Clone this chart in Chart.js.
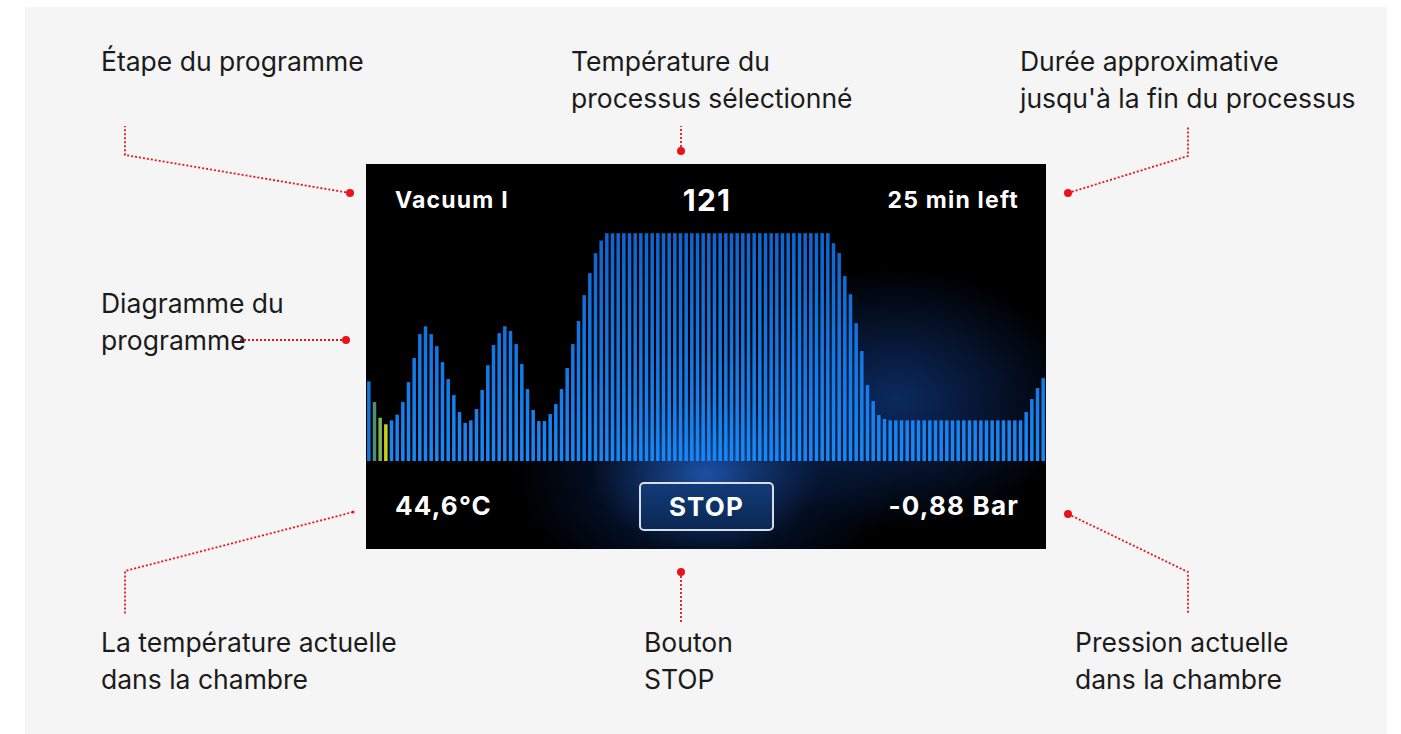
<!DOCTYPE html>
<html lang="fr">
<head>
  <meta charset="UTF-8">
  <title>Programme autoclave</title>
  <script src="https://cdn.jsdelivr.net/npm/chart.js@4.4.1/dist/chart.umd.min.js"></script>
  <style>
    html, body { margin: 0; padding: 0; background: #fff; }
    body { width: 1401px; height: 734px; position: relative; overflow: hidden; font-family: Inter, "Noto Sans", sans-serif; }
    .page { position: absolute; left: 25px; top: 7px; width: 1362px; height: 727px; background: #f5f5f5; }
    .note { position: absolute; font-size: 26.5px; line-height: 37px; color: #1b1b1b; white-space: nowrap; }
    .screen {
      position: absolute; left: 366px; top: 164px; width: 680px; height: 385px; overflow: hidden;
      background:
        radial-gradient(ellipse 190px 130px at 340px 310px, rgba(35,100,205,0.8), rgba(10,45,110,0.3) 60%, rgba(0,0,0,0) 100%),
        radial-gradient(ellipse 180px 130px at 530px 235px, rgba(20,70,160,0.6), rgba(0,0,0,0) 100%),
        #000;
    }
    .lbl { position: absolute; color: #fff; font-weight: 700; white-space: nowrap; letter-spacing: 1.2px; }
    .chartbox { position: absolute; left: 0; top: 56px; width: 680px; height: 241px; }
    .stop {
      position: absolute; left: 273px; top: 318px; width: 131px; height: 45px;
      border: 2px solid #d8dde6; border-radius: 5px;
      background: linear-gradient(#123b78, #0b2754);
      color: #fff; font-weight: 700; font-size: 26px; letter-spacing: 1.2px; line-height: 45px; text-align: center;
    }
    svg { position: absolute; left: 0; top: 0; }
  </style>
</head>
<body>
  <div class="page"></div>

  <div class="note" style="left:101px; top:43px">Étape du programme</div>
  <div class="note" style="left:571px; top:43px">Température du<br>processus sélectionné</div>
  <div class="note" style="left:1020px; top:43px">Durée approximative<br>jusqu'à la fin du processus</div>
  <div class="note" style="left:101px; top:285px">Diagramme du<br>programme</div>
  <div class="note" style="left:101px; top:624px">La température actuelle<br>dans la chambre</div>
  <div class="note" style="left:644px; top:624px">Bouton<br>STOP</div>
  <div class="note" style="left:1075px; top:624px">Pression actuelle<br>dans la chambre</div>

  <div class="screen">
    <div class="lbl" style="left:29px; top:22px; font-size:23px">Vacuum I</div>
    <div class="lbl" style="left:341px; top:18px; font-size:30px; transform:translateX(-50%)">121</div>
    <div class="lbl" style="right:27px; top:22px; font-size:23px">25 min left</div>
    <div class="chartbox"><canvas id="prog"></canvas></div>
    <div class="lbl" style="left:29px; top:326px; font-size:26px">44,6°C</div>
    <div class="stop">STOP</div>
    <div class="lbl" style="right:27px; top:326px; font-size:26px">-0,88 Bar</div>
  </div>

  <svg width="1401" height="734">
    <g fill="none" stroke="#e8141a" stroke-width="1.8" stroke-dasharray="2 2">
      <polyline points="350,193 125,155 125,126"/>
      <polyline points="681,151 681,126"/>
      <polyline points="1068,193 1188,156 1188,126"/>
      <polyline points="346,340 240,340"/>
      <polyline points="353,512 125,571 125,614"/>
      <polyline points="681,572 681,622"/>
      <polyline points="1068,514 1188,572 1188,614"/>
    </g>
    <g fill="#e8141a">
      <circle cx="350" cy="193" r="4"/>
      <circle cx="681" cy="151" r="4"/>
      <circle cx="1068" cy="193" r="4"/>
      <circle cx="346" cy="340" r="4"/>
      <circle cx="353" cy="512" r="1.5"/>
      <circle cx="681" cy="572" r="4"/>
      <circle cx="1068" cy="514" r="4"/>
    </g>
  </svg>

  <script>
    const vacuumPulses = [42.3, 31.3, 23.0, 19.5, 21.6, 24.6, 31.3, 41.9, 54.7, 67.4,
      71.6, 67.4, 61.0, 52.5, 43.5, 35.0, 26.0, 20.2, 21.6, 27.6,
      37.7, 50.9, 61.6, 67.9, 71.6, 69.0, 62.1, 51.5, 38.2, 27.1,
      21.2, 21.2, 24.9, 30.2, 38.2, 49.4, 62.1, 74.3, 88.1, 99.8,
      110.4, 117.1]
    const sterilisation = [121, 121, 121, 121, 121, 121, 121, 121, 121, 121,
      121, 121, 121, 121, 121, 121, 121, 121, 121, 121,
      121, 121, 121, 121, 121, 121, 121, 121, 121, 121,
      121, 121, 121, 121, 121, 121, 121, 121, 121, 121]
    const exhaust = [115.7, 110.4, 98.2, 88.6, 73.2, 58.4, 40.3, 31.8, 24.4, 22.3]
    const drying = [21.6, 21.6, 21.6, 21.6, 21.6, 21.6, 21.6, 21.6, 21.6, 21.6,
      21.6, 21.6, 21.6, 21.6, 21.6, 21.6, 21.6, 21.6, 21.6, 21.6,
      21.6, 21.6, 21.6, 21.6, 26.0, 32.9, 38.7, 44.0]
    // couleurs des étapes déjà passées
    const doneColors = ['#1672dc', '#4f8d74', '#86b24a', '#c9cf1c']

    const values = vacuumPulses.concat(sterilisation, exhaust, drying)
    const steps = values.map((v, i) => i + 1)

    const ctx = document.querySelector('#prog').getContext('2d')
    new Chart(ctx, {
      type: 'bar',
      data: {
        labels: steps,
        datasets: [{
          data: values,
          backgroundColor: c => {
            if (c.dataIndex < doneColors.length) return doneColors[c.dataIndex]
            const area = c.chart.chartArea
            if (!area) return '#1478e6'
            const g = c.chart.ctx.createLinearGradient(0, area.top, 0, area.bottom)
            g.addColorStop(0, '#0c64cc')
            g.addColorStop(1, '#1888f6')
            return g
          },
          borderWidth: 0,
          barPercentage: 0.62,
          categoryPercentage: 1
        }]
      },
      options: {
        responsive: true,
        maintainAspectRatio: false,
        animation: false,
        layout: { padding: 0 },
        plugins: { legend: { display: false }, tooltip: { enabled: false } },
        scales: {
          x: { display: false, offset: true },
          y: { display: false, min: 0, max: 128 }
        }
      }
    })
  </script>
</body>
</html>
